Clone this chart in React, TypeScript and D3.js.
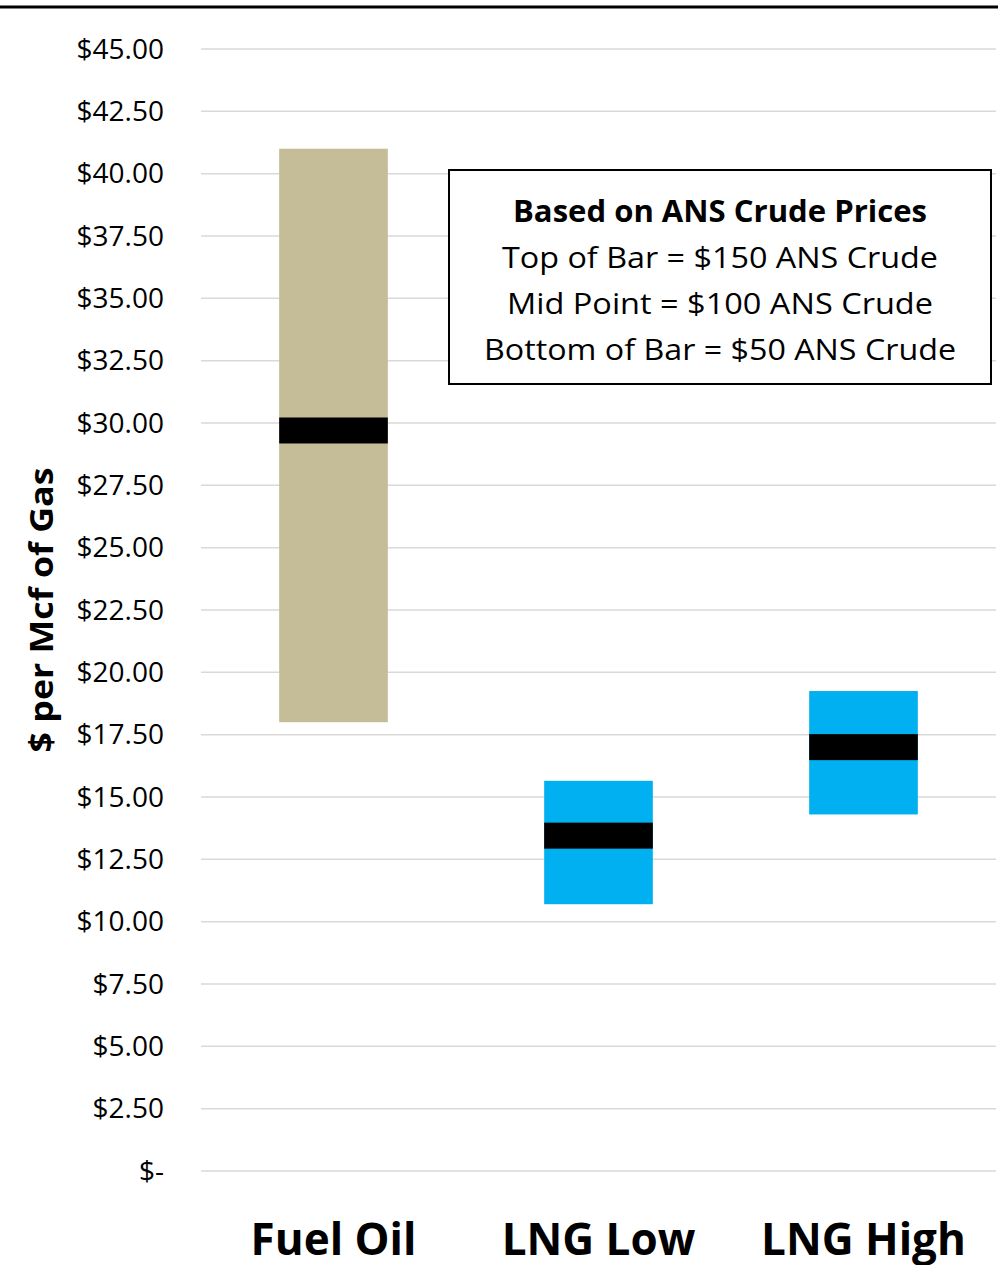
import React, { useEffect, useRef } from 'react'
import * as d3 from 'd3'

const categories = ['Fuel Oil', 'LNG Low', 'LNG High']
const barBottom = [18.0, 10.7, 14.3]
const barMid = [29.7, 13.45, 17.0]
const barTop = [41.0, 15.65, 19.25]
const barColors = ['#C4BD97', '#00B0F0', '#00B0F0']
const yTicks = [0, 2.5, 5, 7.5, 10, 12.5, 15, 17.5, 20, 22.5, 25, 27.5, 30, 32.5, 35, 37.5, 40, 42.5, 45]
const noteLines = [
  'Based on ANS Crude Prices',
  'Top of Bar = $150 ANS Crude',
  'Mid Point = $100 ANS Crude',
  'Bottom of Bar = $50 ANS Crude',
]
const noteWidths = [414, 436, 426, 472]

const W = 998
const H = 1265
const FONT = '"Open Sans", "DejaVu Sans", sans-serif'

function fmt(v: number) {
  return v === 0 ? '$-' : '$' + v.toFixed(2)
}

export default function App() {
  const ref = useRef<SVGSVGElement>(null)

  useEffect(() => {
    const svg = d3.select(ref.current)
    svg.selectAll('*').remove()

    var y = d3.scaleLinear().domain([0, 45]).range([1171, 49])
    var x = d3.scaleBand().domain(categories).range([201, 996]).paddingInner(0.59).paddingOuter(0.295)

    // top border
    svg.append('line')
      .attr('x1', 0).attr('x2', W).attr('y1', 7).attr('y2', 7)
      .attr('stroke', '#000').attr('stroke-width', 3)

    // gridlines
    svg.append('g').selectAll('line')
      .data(yTicks).enter().append('line')
        .attr('x1', 201).attr('x2', 996)
        .attr('y1', d => y(d)).attr('y2', d => y(d))
        .attr('stroke', '#d9d9d9').attr('stroke-width', 1.5)

    // tick labels
    svg.append('g').selectAll('text')
      .data(yTicks).enter().append('text')
        .attr('x', 164).attr('y', d => y(d))
        .attr('dy', '0.35em')
        .attr('text-anchor', 'end')
        .attr('font-family', FONT).attr('font-size', 28)
        .attr('fill', '#000')
        .text(d => fmt(d))

    // range bars
    svg.append('g').selectAll('rect')
      .data(categories).enter().append('rect')
        .attr('x', d => x(d)!)
        .attr('width', x.bandwidth())
        .attr('y', (d, i) => y(barTop[i]))
        .attr('height', (d, i) => y(barBottom[i]) - y(barTop[i]))
        .attr('fill', (d, i) => barColors[i])

    // midpoint markers
    svg.append('g').selectAll('rect')
      .data(categories).enter().append('rect')
        .attr('x', d => x(d)!)
        .attr('width', x.bandwidth())
        .attr('y', (d, i) => y(barMid[i]) - 13)
        .attr('height', 26)
        .attr('fill', '#000')

    // category labels
    svg.append('g').selectAll('text')
      .data(categories).enter().append('text')
        .attr('x', d => x(d)! + x.bandwidth() / 2)
        .attr('y', 1255)
        .attr('text-anchor', 'middle')
        .attr('font-family', FONT).attr('font-weight', 'bold').attr('font-size', 44)
        .attr('fill', '#000')
        .text(d => d)

    // axis title
    svg.append('text')
      .attr('transform', 'translate(53,610) rotate(-90)')
      .attr('text-anchor', 'middle')
      .attr('font-family', FONT).attr('font-weight', 'bold').attr('font-size', 32)
      .attr('textLength', 285).attr('lengthAdjust', 'spacingAndGlyphs')
      .attr('fill', '#000')
      .text('$ per Mcf of Gas')

    // note box
    svg.append('rect')
      .attr('x', 449).attr('y', 170).attr('width', 542).attr('height', 214)
      .attr('fill', '#fff').attr('stroke', '#000').attr('stroke-width', 2)

    svg.append('g').selectAll('text')
      .data(noteLines).enter().append('text')
        .attr('x', 720)
        .attr('y', (d, i) => 222 + i * 46)
        .attr('text-anchor', 'middle')
        .attr('font-family', FONT).attr('font-size', 30)
        .attr('textLength', (d, i) => noteWidths[i]).attr('lengthAdjust', 'spacingAndGlyphs')
        .attr('font-weight', (d, i) => i === 0 ? 'bold' : 'normal')
        .attr('fill', '#000')
        .text(d => d)
  }, [])

  return (
    <svg ref={ref} width={W} height={H}
      style={{ position: 'absolute', left: 0, top: 0, background: '#fff' }}></svg>
  )
}
